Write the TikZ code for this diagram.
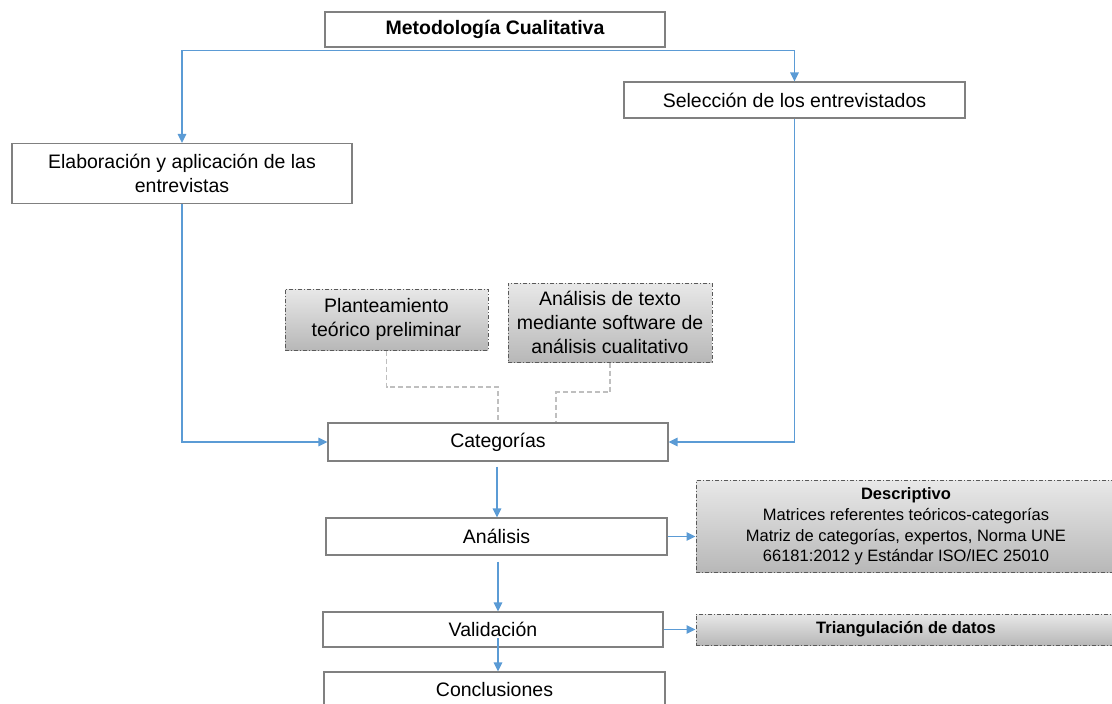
\documentclass[tikz,border=0pt]{standalone}
\usepackage{fontspec}
\setmainfont{Liberation Sans}
\usetikzlibrary{arrows.meta,calc}
\definecolor{arrblue}{HTML}{5B9BD5}
\definecolor{boxgray}{HTML}{808080}
\definecolor{dashgray}{HTML}{BFBFBF}
\tikzset{
  plainbox/.style={draw=boxgray, line width=1.2pt, fill=white, inner sep=0pt, align=center,
    font=\fontsize{19.5}{24}\selectfont},
  shadebox/.style={draw=black!65, line width=1pt, dash pattern=on 4pt off 2pt on 1pt off 2pt,
    top color=black!9, bottom color=black!28, inner sep=0pt, align=center,
    font=\fontsize{19.5}{24}\selectfont},
  smallshade/.style={shadebox, font=\fontsize{16.5}{20.7}\selectfont},
  arr/.style={draw=arrblue, line width=1.5pt, -{Triangle[length=9pt,width=8.5pt]}},
  dsh/.style={draw=dashgray, line width=1.6pt, dash pattern=on 5pt off 3pt}
}
\begin{document}
\begin{tikzpicture}[x=1pt,y=-1pt]
\useasboundingbox (0,0) rectangle (1112,704);
\clip (0,0) rectangle (1112,704);

\node[plainbox, minimum width=340pt, minimum height=35pt] (met) at (495,29.5) {\textbf{Metodología Cualitativa}};
\node[plainbox, minimum width=341pt, minimum height=36pt] (sel) at (794.5,100) {Selección de los entrevistados};
\node[plainbox, minimum width=340pt, minimum height=60pt] (elab) at (182,173.5) {Elaboración y aplicación de las\\entrevistas};
\node[shadebox, minimum width=203pt, minimum height=61pt] (plan) at (386.5,319.5) {Planteamiento\\teórico preliminar};
\node[shadebox, minimum width=204pt, minimum height=79pt] (soft) at (610,322.5) {Análisis de texto\\mediante software de\\análisis cualitativo};
\node[plainbox, minimum width=340pt, minimum height=38pt] (cat) at (498,442) {Categorías};
\node[plainbox, minimum width=341pt, minimum height=37pt] (ana) at (496.5,536.5) {Análisis};
\node[plainbox, minimum width=340pt, minimum height=35pt] (val) at (493,629.5) {Validación};
\node[plainbox, minimum width=341pt, minimum height=36pt] (concl) at (494.5,690) {Conclusiones};
\node[smallshade, minimum width=420pt, minimum height=92pt] (desc) at (906,526.5) {\textbf{Descriptivo}\\Matrices referentes teóricos-categorías\\Matriz de categorías, expertos, Norma UNE\\66181:2012 y Estándar ISO/IEC 25010};
\node[smallshade, minimum width=420pt, minimum height=31pt] (tri) at (906,629.5) {\textbf{Triangulación de datos}};

% top split
\coordinate (mj) at ($(met.south)+(0,3)$);
\draw[arr] (mj) -| (elab.north);
\draw[arr] (mj) -| (sel.north);

% into categorias
\draw[arr] (elab.south) |- (cat.west);
\draw[arr] (sel.south) |- (cat.east);

% dashed links
\coordinate (pj) at (498,387);
\draw[dsh] (plan.south) |- (pj) -- (pj |- cat.north);
\coordinate (sj) at (556,392);
\draw[dsh] (soft.south) |- (sj) -- (sj |- cat.north);

% vertical chain
\coordinate (c1) at ($(cat.south)+(-1,5)$);
\draw[arr] (c1) -- (c1 |- ana.north);
\coordinate (a1) at ($(ana.south)+(1.5,6)$);
\draw[arr] (a1) -- (a1 |- val.north);
\coordinate (v1) at ($(val.center)+(5,8.5)$);
\draw[arr] (v1) -- (v1 |- concl.north);

% side arrows
\draw[arr] (ana.east) -- (ana.east -| desc.west);
\draw[arr] (val.east) -- (val.east -| tri.west);
\end{tikzpicture}
\end{document}
